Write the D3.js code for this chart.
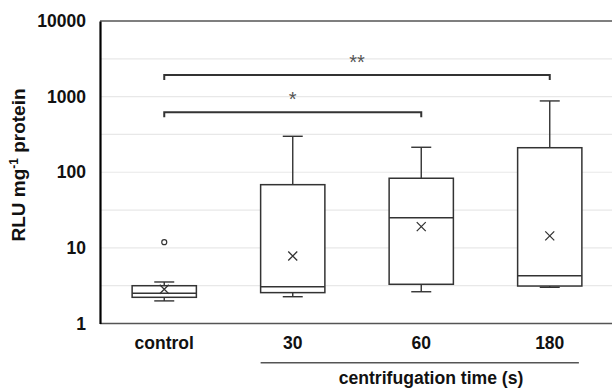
<!DOCTYPE html>
<html>
<head>
<meta charset="utf-8">
<script src="https://cdn.jsdelivr.net/npm/d3@7"></script>
<style>
  body { margin: 0; background: #fff; }
  svg text { font-family: "Liberation Sans", Arial, sans-serif; }
</style>
</head>
<body>
<div id="chart"></div>
<script>
// box plot stats (RLU per mg protein)
const categories = ['control', '30', '60', '180'];
const whiskerLow  = [1.99, 2.26, 2.63, 3.01];
const q1          = [2.22, 2.56, 3.30, 3.13];
const medians     = [2.51, 3.07, 25.1, 4.29];
const q3          = [3.16, 68.5, 83.3, 211];
const whiskerHigh = [3.54, 299, 214, 877];
const means       = [2.83, 7.8, 19.1, 14.4];
const outliers    = [{cat: 'control', value: 11.9}];
const yTicks = [1, 10, 100, 1000, 10000];
const gridValues = [Math.sqrt(10), 10, Math.sqrt(1000), 100, Math.sqrt(100000), 1000, Math.sqrt(10000000)];
const brackets = [
  {from: 'control', to: '60', level: 112.3, label: '*'},
  {from: 'control', to: '180', level: 75, label: '**'}
];
const groupedCats = ['30', '60', '180'];

const width = 612, height = 389;
const margin = {top: 21, right: -2, bottom: 65.5, left: 100};

const svg = d3.select('#chart')
    .append('svg')
    .attr('width', width)
    .attr('height', height)
    .attr('viewBox', `0 0 ${width} ${height}`);

const x = d3.scaleBand()
    .domain(categories)
    .range([margin.left, width - margin.right]);

const y = d3.scaleLog()
    .domain([1, 10000])
    .range([height - margin.bottom, margin.top]);

const cx = c => x(c) + x.bandwidth() / 2;
const boxW = x.bandwidth() / 2;
const capW = 20;

// gridlines
svg.append('g')
    .selectAll('line')
    .data(gridValues)
    .join('line')
    .attr('x1', margin.left)
    .attr('x2', width)
    .attr('y1', d => y(d))
    .attr('y2', d => y(d))
    .attr('stroke', '#e8e8e8')
    .attr('stroke-width', 1.2);

// top line at 10000
svg.append('line')
    .attr('x1', margin.left).attr('x2', width)
    .attr('y1', y(10000)).attr('y2', y(10000))
    .attr('stroke', '#555').attr('stroke-width', 1.6);

// bottom line
svg.append('line')
    .attr('x1', margin.left).attr('x2', width)
    .attr('y1', y(1)).attr('y2', y(1))
    .attr('stroke', '#555').attr('stroke-width', 1.6);

// y axis
const yAxis = d3.axisLeft(y).tickValues(yTicks).tickFormat(d3.format('d')).tickSize(0).tickPadding(14);
const ya = svg.append('g')
    .attr('transform', `translate(${margin.left},0)`)
    .call(yAxis);
ya.select('.domain').attr('stroke', '#000').attr('stroke-width', 2.2);
ya.selectAll('text')
    .attr('font-size', 17.5)
    .attr('font-weight', 'bold')
    .attr('fill', '#111')
    .style('font-family', '"Liberation Sans", Arial, sans-serif');

// x labels
svg.append('g')
    .selectAll('text')
    .data(categories)
    .join('text')
    .attr('x', d => cx(d))
    .attr('y', 349)
    .attr('text-anchor', 'middle')
    .attr('font-size', 17.5)
    .attr('font-weight', 'bold')
    .attr('fill', '#111')
    .text(d => d);

// group line under centrifugation times
svg.append('line')
    .attr('x1', cx(groupedCats[0]) - boxW / 2)
    .attr('x2', cx(groupedCats[groupedCats.length - 1]) + boxW / 2 - 3)
    .attr('y1', 362.7).attr('y2', 362.7)
    .attr('stroke', '#555').attr('stroke-width', 1.5);

svg.append('text')
    .attr('x', 431)
    .attr('y', 384)
    .attr('text-anchor', 'middle')
    .attr('font-size', 17.6)
    .attr('font-weight', 'bold')
    .attr('fill', '#111')
    .text('centrifugation time (s)');

// y title
const yt = svg.append('text')
    .attr('transform', 'translate(25,165) rotate(-90)')
    .attr('text-anchor', 'middle')
    .attr('font-size', 19)
    .attr('font-weight', 'bold')
    .attr('fill', '#111');
yt.append('tspan').text('RLU mg');
yt.append('tspan').attr('dy', -7).attr('font-size', 12).text('-1');
yt.append('tspan').attr('dy', 7).text(' protein');

// boxes
const boxes = categories.map((c, i) => ({
  cat: c, lo: whiskerLow[i], q1: q1[i], med: medians[i], q3: q3[i], hi: whiskerHigh[i], mean: means[i]
}));

const g = svg.append('g');
const bx = g.selectAll('g.box')
    .data(boxes)
    .join('g')
    .attr('class', 'box');

// whiskers
bx.append('line')
    .attr('x1', d => cx(d.cat)).attr('x2', d => cx(d.cat))
    .attr('y1', d => y(d.q3)).attr('y2', d => y(d.hi))
    .attr('stroke', '#333').attr('stroke-width', 1.4);
bx.append('line')
    .attr('x1', d => cx(d.cat)).attr('x2', d => cx(d.cat))
    .attr('y1', d => y(d.q1)).attr('y2', d => y(d.lo))
    .attr('stroke', '#333').attr('stroke-width', 1.4);
bx.append('line')
    .attr('x1', d => cx(d.cat) - capW / 2).attr('x2', d => cx(d.cat) + capW / 2)
    .attr('y1', d => y(d.hi)).attr('y2', d => y(d.hi))
    .attr('stroke', '#333').attr('stroke-width', 1.4);
bx.append('line')
    .attr('x1', d => cx(d.cat) - capW / 2).attr('x2', d => cx(d.cat) + capW / 2)
    .attr('y1', d => y(d.lo)).attr('y2', d => y(d.lo))
    .attr('stroke', '#333').attr('stroke-width', 1.4);

bx.append('rect')
    .attr('x', d => cx(d.cat) - boxW / 2)
    .attr('width', boxW)
    .attr('y', d => y(d.q3))
    .attr('height', d => y(d.q1) - y(d.q3))
    .attr('fill', '#fff')
    .attr('stroke', '#333')
    .attr('stroke-width', 1.5);

bx.append('line')
    .attr('x1', d => cx(d.cat) - boxW / 2).attr('x2', d => cx(d.cat) + boxW / 2)
    .attr('y1', d => y(d.med)).attr('y2', d => y(d.med))
    .attr('stroke', '#333').attr('stroke-width', 1.5);

// mean markers (x)
const mk = 4.5;
bx.append('path')
    .attr('d', d => {
      const px = cx(d.cat), py = y(d.mean);
      return `M${px - mk},${py - mk}L${px + mk},${py + mk}M${px - mk},${py + mk}L${px + mk},${py - mk}`;
    })
    .attr('stroke', '#333').attr('stroke-width', 1.3).attr('fill', 'none');

// outliers
g.selectAll('circle.out')
    .data(outliers)
    .join('circle')
    .attr('class', 'out')
    .attr('cx', d => cx(d.cat))
    .attr('cy', d => y(d.value))
    .attr('r', 2.5)
    .attr('fill', '#fff')
    .attr('stroke', '#333')
    .attr('stroke-width', 1.2);

// significance brackets
const br = svg.append('g').selectAll('g')
    .data(brackets)
    .join('g');
br.append('path')
    .attr('d', d => `M${cx(d.from)},${d.level + 5}V${d.level}H${cx(d.to)}V${d.level + 5}`)
    .attr('fill', 'none')
    .attr('stroke', '#333')
    .attr('stroke-width', 2);
br.append('text')
    .attr('x', d => (cx(d.from) + cx(d.to)) / 2)
    .attr('y', d => d.level - 6)
    .attr('text-anchor', 'middle')
    .attr('font-size', 20)
    .attr('fill', '#555')
    .text(d => d.label);
</script>
</body>
</html>
